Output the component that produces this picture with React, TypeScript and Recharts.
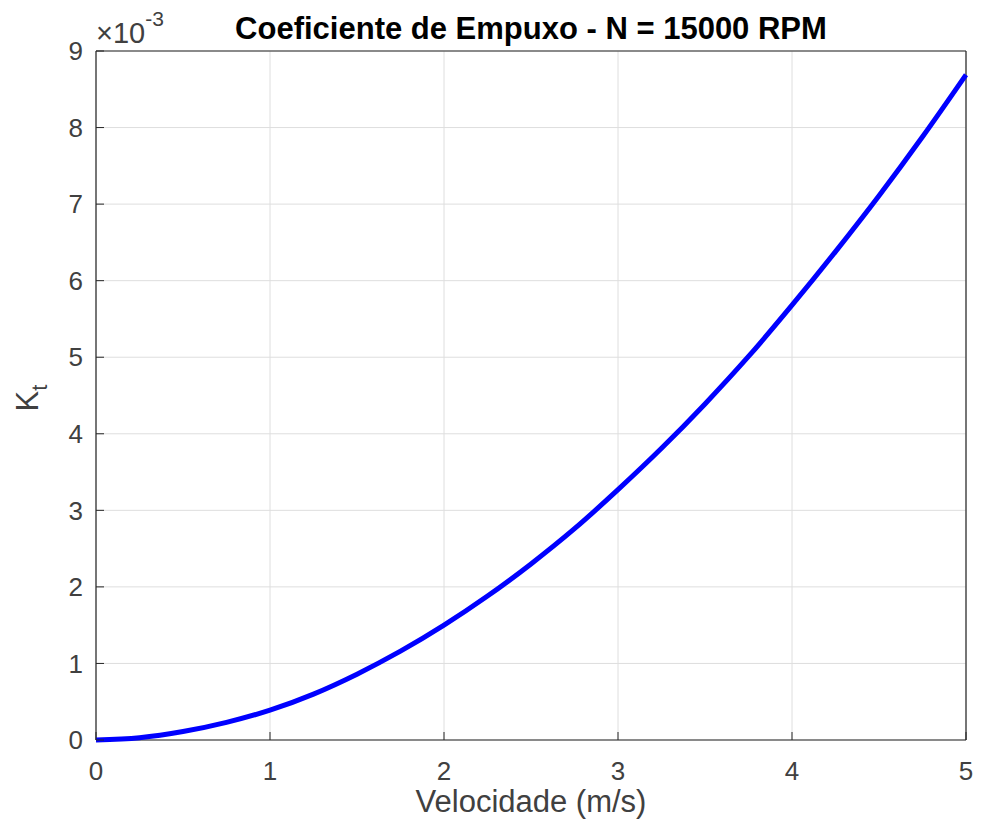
import { LineChart, Line, XAxis, YAxis, CartesianGrid, ReferenceLine } from "recharts";

// velocidade (m/s) and Kt (x 10^-3)
const velocidade = [0, 0.25, 0.5, 0.75, 1, 1.25, 1.5, 1.75, 2, 2.25, 2.5, 2.75, 3, 3.25, 3.5, 3.75, 4, 4.25, 4.5, 4.75, 5];
const kt = [0, 0.03, 0.11, 0.23, 0.39, 0.6, 0.86, 1.16, 1.5, 1.88, 2.3, 2.76, 3.27, 3.81, 4.39, 5.01, 5.68, 6.38, 7.11, 7.88, 8.69];

const xTicks = [0, 1, 2, 3, 4, 5];
const yTicks = [0, 1, 2, 3, 4, 5, 6, 7, 8, 9];

const data = velocidade.map((v, i) => ({ v, kt: kt[i] }));

const FONT = "'Liberation Sans', Arial, sans-serif";
const INK = "#262626";
const TXT = "#404040";
const TICK = 8;
const XM = 22; // gap axis -> x tick text
const YM = 13; // gap axis -> y tick text

// tick marks point inward, like matlab
const BottomTick = (p: any) => (
    <g>
        <line x1={p.x} x2={p.x} y1={p.y - XM} y2={p.y - XM - TICK} stroke={INK} />
        <text x={p.x} y={p.y} dy="0.71em" textAnchor="middle" fontSize={26} fill={TXT} fontFamily={FONT}>
            {p.payload.value}
        </text>
    </g>
);
const TopTick = (p: any) => <line x1={p.x} x2={p.x} y1={p.y + 2} y2={p.y + 2 + TICK} stroke={INK} />;
const LeftTick = (p: any) => (
    <g>
        <line x1={p.x + YM} x2={p.x + YM + TICK} y1={p.y} y2={p.y} stroke={INK} />
        <text x={p.x} y={p.y} dy="0.355em" textAnchor="end" fontSize={26} fill={TXT} fontFamily={FONT}>
            {p.payload.value}
        </text>
    </g>
);
const RightTick = (p: any) => <line x1={p.x - 2} x2={p.x - 2 - TICK} y1={p.y} y2={p.y} stroke={INK} />;

export default function App() {
    return (
        <div style={{ position: "absolute", left: 0, top: 0, width: 982, height: 828, background: "#fff" }}>
            <LineChart width={982} height={828} data={data} margin={{ top: 51, right: 16, left: 36, bottom: 48 }}>
                <CartesianGrid stroke="#dedede" strokeWidth={1} />
                <XAxis
                    dataKey="v"
                    type="number"
                    domain={[0, 5]}
                    ticks={xTicks}
                    height={40}
                    axisLine={false}
                    tickLine={false}
                    tickSize={0}
                    tickMargin={XM}
                    tick={BottomTick}
                />
                <XAxis
                    xAxisId="top"
                    orientation="top"
                    dataKey="v"
                    type="number"
                    domain={[0, 5]}
                    ticks={xTicks}
                    height={0}
                    axisLine={false}
                    tickLine={false}
                    tickSize={0}
                    tickMargin={2}
                    tick={TopTick}
                />
                <YAxis
                    type="number"
                    domain={[0, 9]}
                    ticks={yTicks}
                    width={60}
                    axisLine={false}
                    tickLine={false}
                    tickSize={0}
                    tickMargin={YM}
                    tick={LeftTick}
                />
                <YAxis
                    yAxisId="right"
                    orientation="right"
                    type="number"
                    domain={[0, 9]}
                    ticks={yTicks}
                    width={0}
                    axisLine={false}
                    tickLine={false}
                    tickSize={0}
                    tickMargin={2}
                    tick={RightTick}
                />
                <ReferenceLine x={0} stroke={INK} strokeWidth={1.2} />
                <ReferenceLine x={5} stroke={INK} strokeWidth={1.2} />
                <ReferenceLine y={0} stroke={INK} strokeWidth={1.2} />
                <ReferenceLine y={9} stroke={INK} strokeWidth={1.2} />
                <Line
                    dataKey="kt"
                    type="monotone"
                    stroke="#0000ff"
                    strokeWidth={5}
                    dot={false}
                    isAnimationActive={false}
                />
            </LineChart>
            <svg width={982} height={828} style={{ position: "absolute", left: 0, top: 0, pointerEvents: "none" }}>
                <text x={531} y={39} textAnchor="middle" fontFamily={FONT} fontWeight="bold" fontSize={31} fill="#000">
                    Coeficiente de Empuxo - N = 15000 RPM
                </text>
                <text x={96} y={43} fontFamily={FONT} fontSize={29} fill={TXT}>
                    ×10<tspan dy={-17} fontSize={21}>-3</tspan>
                </text>
                <text x={531} y={812} textAnchor="middle" fontFamily={FONT} fontSize={31} fill={TXT}>
                    Velocidade (m/s)
                </text>
                <text transform="translate(38, 398) rotate(-90)" textAnchor="middle" fontFamily={FONT} fontSize={31} fill={TXT}>
                    K<tspan dy={9} fontSize={22}>t</tspan>
                </text>
            </svg>
        </div>
    );
}
